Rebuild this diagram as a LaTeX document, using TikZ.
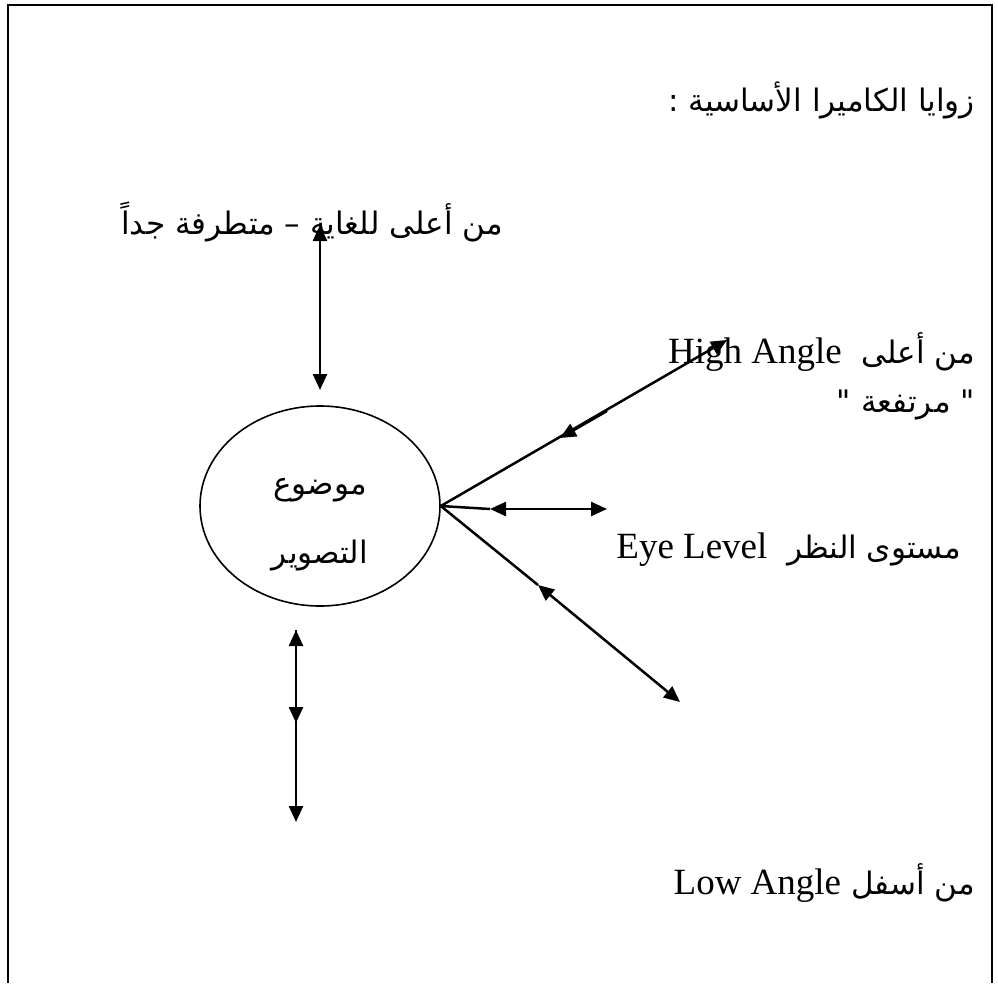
\documentclass[tikz,border=0pt]{standalone}
\usepackage{fontspec}
\setmainfont{Liberation Serif}
\newfontfamily\arabicfont[Script=Arabic]{DejaVu Sans}
\TeXXeTstate=1
\usetikzlibrary{arrows.meta,shapes.geometric}
\tikzset{
  ln/.style={line width=2.5pt,black},
  arr/.style={ln,-{Triangle[length=16pt,width=14pt]}},
  darr/.style={ln,{Triangle[length=16pt,width=14pt]}-{Triangle[length=16pt,width=14pt]}},
  lbl/.style={inner sep=0pt,anchor=east,font=\arabicfont\fontsize{31}{36}\selectfont}
}
\newcommand{\lat}[1]{{\rmfamily\fontsize{37}{40}\selectfont #1}}
\begin{document}
\begin{tikzpicture}[x=1pt,y=-1pt]
\useasboundingbox (0,0) rectangle (998,983);
% frame (open at the bottom)
\draw[line width=2.2pt] (8,983) -- (8,5) -- (992,5) -- (992,983);
% texts
\node[lbl] (title) at (975,100) {\beginR زوايا الكاميرا الأساسية :\endR};
\node[lbl,anchor=center] (toplbl) at (312,222) {\beginR من أعلى للغاية – متطرفة جداً\endR};
\node[lbl] (hi) at (975,352) {\beginR من أعلى \ \beginL\lat{High Angle}\endL\endR};
\node[lbl] (hi2) at (975,405) {\beginR " مرتفعة "\endR};
\node[lbl] (eye) at (961,550) {\beginR مستوى النظر \ \beginL\lat{Eye Level}\endL\endR};
\node[lbl] (low) at (975,883) {\beginR من أسفل \beginL\lat{Low Angle}\endL\endR};
% subject ellipse
\node[ellipse,draw,line width=1.6pt,minimum width=240pt,minimum height=200pt,inner sep=0pt] (subj) at (320,506) {};
\node[inner sep=0pt,font=\arabicfont\fontsize{31}{36}\selectfont] (w1) at (320,490) {\beginR موضوع\endR};
\node[inner sep=0pt,font=\arabicfont\fontsize{31}{36}\selectfont] (w2) at (320,555) {\beginR التصوير\endR};
% coordinates
\coordinate (topA) at (320,225);
\coordinate (topB) at (320,390);
\coordinate (hiEnd) at (727,340);
\coordinate (hiMid) at (607,411);
\coordinate (hiTip) at (560,438);
\coordinate (eyeL) at (490,509);
\coordinate (eyeR) at (607,509);
\coordinate (dnL) at (538,585);
\coordinate (dnR) at (680,702);
\coordinate (botA) at (296,630);
\coordinate (botM) at (296,723);
\coordinate (botB) at (296,822);
% connectors
\draw[darr] (topA) -- (topB);
\draw[arr] (subj.east) -- (hiEnd);
\draw[arr] (hiMid) -- (hiTip);
\draw[ln] (subj.east) -- (eyeL);
\draw[darr] (eyeL) -- (eyeR);
\draw[ln] (subj.east) -- (dnL);
\draw[darr] (dnL) -- (dnR);
\draw[darr] (botA) -- (botB);
\draw[arr] (botA) -- (botM);
\end{tikzpicture}
\end{document}
